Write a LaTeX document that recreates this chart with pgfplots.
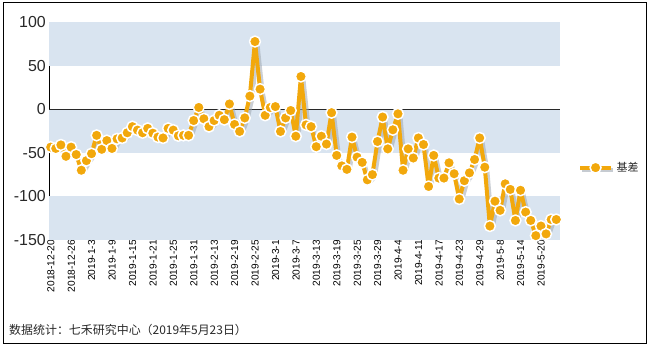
\documentclass[border=0pt]{standalone}
\usepackage{pgfplots}
\pgfplotsset{compat=1.18}
\usepackage{pgfplotstable}
\usepackage{fontspec}
\setmainfont{Liberation Sans}
\newfontfamily\cjk{Noto Sans CJK SC}
\definecolor{bandblue}{RGB}{217,228,240}
\definecolor{jorange}{RGB}{242,168,12}
\definecolor{shadowgray}{RGB}{160,168,178}
\definecolor{txt}{RGB}{40,40,40}

\pgfplotstableread{
x y
0 -43.5
1 -45
2 -41
3 -54
4 -43.5
5 -52
6 -70
7 -59
8 -51
9 -30
10 -46
11 -36
12 -45
13 -34
14 -33
15 -27
16 -20
17 -24
18 -27
19 -22
20 -27.5
21 -32
22 -33
23 -22
24 -24
25 -30.5
26 -30
27 -30
28 -13
29 2
30 -11
31 -20
32 -13
33 -7
34 -12
35 6
36 -17.5
37 -25.5
38 -10
39 15
40 77.6
41 23
42 -7
43 2
44 3
45 -25.5
46 -10
47 -1.5
48 -31
49 37.5
50 -18
51 -20
52 -43
53 -31
54 -40
55 -4
56 -53
57 -65
58 -69
59 -32
60 -55
61 -61
62 -81
63 -75
64 -37
65 -9
66 -45.5
67 -23.6
68 -5.3
69 -70
70 -45.5
71 -56
72 -33
73 -40.5
74 -88.6
75 -53
76 -79
77 -79
78 -61.5
79 -74
80 -103
81 -82
82 -73
83 -57.7
84 -33
85 -66.5
86 -134
87 -105.5
88 -116
89 -85.6
90 -92
91 -127.6
92 -93
93 -118
94 -127.6
95 -145
96 -134
97 -143
98 -126.5
99 -126.5
}\basis

\begin{document}
\begin{tikzpicture}
\path[use as bounding box] (0,0) rectangle (651bp,347bp);
\draw[line width=1bp] (3bp,3.7bp) rectangle (646bp,344.3bp);
\node[anchor=west, text=txt, font=\cjk\fontsize{12}{14}\selectfont, inner sep=0pt] at (9bp,17bp) {数据统计：七禾研究中心（2019年5月23日）};
\begin{axis}[
  at={(49.3bp,107bp)}, anchor=south west,
  scale only axis, width=510.7bp, height=218bp,
  xmin=-0.27, xmax=99.73, ymin=-150, ymax=100,
  clip=false,
  axis x line*=bottom, axis y line*=left,
  x axis line style={draw=none},
  y axis line style={line width=1.5bp, black, -},
  major tick length=0pt,
  ytick={-150,-100,-50,0,50,100},
  xtick={0,4,...,96},
  xticklabels={2018-12-20,2018-12-26,2019-1-3,2019-1-9,2019-1-15,2019-1-21,2019-1-25,2019-1-31,2019-2-13,2019-2-19,2019-2-25,2019-3-1,2019-3-7,2019-3-13,2019-3-19,2019-3-25,2019-3-29,2019-4-4,2019-4-11,2019-4-17,2019-4-23,2019-4-29,2019-5-8,2019-5-14,2019-5-20},
  /pgf/number format/assume math mode=true,
  yticklabel style={font=\fontsize{16}{18}\selectfont, text=txt},
  xticklabel style={font=\fontsize{10.2}{12}\selectfont, text=black, rotate=90, anchor=south east, inner sep=0pt, yshift=-4bp},
  legend style={draw=none, fill=none, at={(1.035,0.332)}, anchor=west, font=\cjk\fontsize{11}{13}\selectfont, text=txt, inner sep=0pt, legend cell align=left},
  legend image code/.code={
    \draw[shadowgray, opacity=0.6, line width=4bp] (1.5bp,-2bp) -- (32.5bp,-2bp);
    \draw[jorange, line width=4bp] (0bp,0bp) -- (31bp,0bp);
    \draw[#1, only marks] plot coordinates {(15.5bp,0bp)};
  },
]
\fill[bandblue] (axis cs:-0.27,50) rectangle (axis cs:99.73,100);
\fill[bandblue] (axis cs:-0.27,-50) rectangle (axis cs:99.73,0);
\fill[bandblue] (axis cs:-0.27,-150) rectangle (axis cs:99.73,-100);
\draw[txt, line width=1bp] (axis cs:-0.27,0) -- (axis cs:99.73,0);
\addplot[shadowgray, opacity=0.55, line width=4bp, line join=round, no markers, forget plot, xshift=2.5bp, yshift=-2.5bp] table[x=x, y=y] {\basis};
\addplot[jorange, line width=4bp, line join=round, mark=*, mark size=5.5bp, mark options={fill=jorange, draw=white, line width=1.5bp, solid}] table[x=x, y=y] {\basis};
\addlegendentry{基差}
\end{axis}
\end{tikzpicture}
\end{document}
